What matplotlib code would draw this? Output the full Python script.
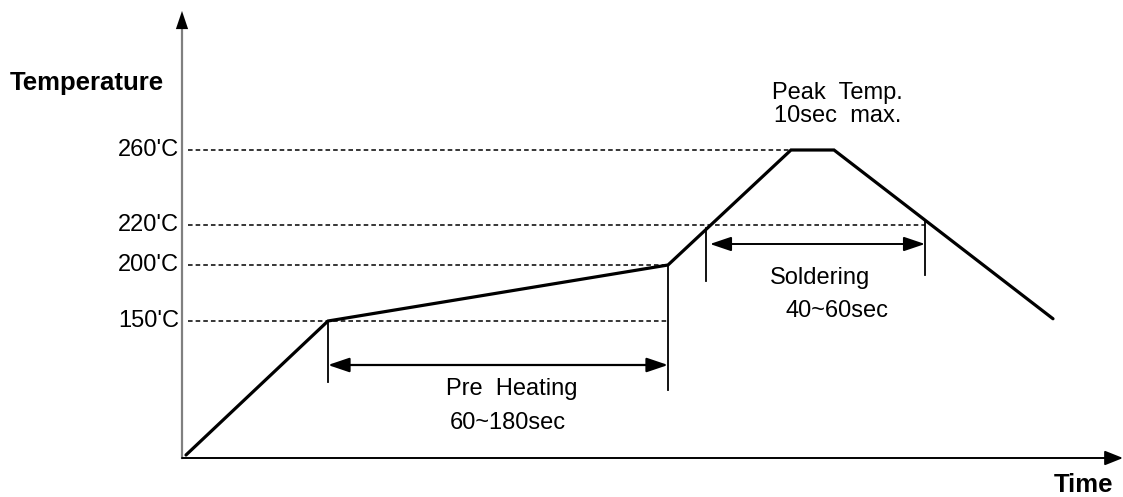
import numpy as np
import matplotlib
matplotlib.use("Agg")
import matplotlib.pyplot as plt

plt.rcParams['font.family'] = ['Liberation Sans', 'DejaVu Sans']

# ---- data (schematic reflow profile) ----
profile_time = [4, 146, 486, 609, 652, 871]          # time (a.u.)
profile_temp = [25, 150, 200, 260, 260, 152]         # temperature 'C
level_temps = [260, 220, 200, 150]
level_labels = ["260'C", "220'C", "200'C", "150'C"]
level_end_time = [609, 743, 486, 486]
preheat_span = [146, 486]
solder_span = [524, 743]

# schematic (non-linear) temperature axis
knot_t = np.array([-100.0, 25.0, 150.0, 200.0, 220.0, 260.0, 500.0])
knot_h = np.array([-130.0, 3.0, 137.0, 193.0, 233.0, 308.0, 758.0])
def fwd(t):
    return np.interp(t, knot_t, knot_h)
def inv(h):
    return np.interp(h, knot_h, knot_t)

W, H = 1123, 497
fig = plt.figure(figsize=(W/100, H/100), dpi=100)
ax = fig.add_axes([0, 0, 1, 1])
ax.set_yscale('function', functions=(fwd, inv))
ax.set_xlim(-182, W - 182)
ax.set_ylim(inv(458 - H), inv(458))
ax.axis('off')

def py(p):
    """pixel row -> temperature on the schematic scale"""
    return inv(458 - p)

ymin = inv(0)
# y axis: gray shaft, black head
ax.plot([0, 0], [ymin, py(28)], color='#808080', lw=1.6)
ax.annotate('', xy=(0, py(11)), xytext=(0, py(40)),
            arrowprops=dict(arrowstyle='-|>,head_length=0.65,head_width=0.22',
                            color='black', lw=0.01,
                            mutation_scale=20, shrinkA=0, shrinkB=0))
# x axis
ax.annotate('', xy=(941, ymin), xytext=(0, ymin),
            arrowprops=dict(arrowstyle='-|>,head_length=0.55,head_width=0.22',
                            color='black', lw=1.4,
                            mutation_scale=20, shrinkA=0, shrinkB=0))

# dashed level lines and labels
for t, lab, xe in zip(level_temps, level_labels, level_end_time):
    ax.plot([6, xe], [t, t], color='black', lw=1.1, ls=(0, (3.0, 2.0)))
    ax.text(-3, t, lab, ha='right', va='center', fontsize=17)

# profile
ax.plot(profile_time, profile_temp, color='black', lw=2.3,
        solid_capstyle='round', solid_joinstyle='miter')

# extension lines
ax.plot([146, 146], [150, py(382)], color='black', lw=1.3)
ax.plot([486, 486], [200, py(390)], color='black', lw=1.3)
ax.plot([524, 524], [py(228), py(281)], color='black', lw=1.3)
ax.plot([743, 743], [py(221), py(275)], color='black', lw=1.3)

# dimension arrows
astyle = '<|-|>,head_length=0.65,head_width=0.22'
y_pre = py(365)
ax.annotate('', xy=(preheat_span[0], y_pre), xytext=(preheat_span[1], y_pre),
            arrowprops=dict(arrowstyle=astyle, color='black', lw=1.6,
                            mutation_scale=20, shrinkA=0, shrinkB=0))
y_sol = py(244)
ax.annotate('', xy=(solder_span[0] + 4, y_sol), xytext=(solder_span[1], y_sol),
            arrowprops=dict(arrowstyle=astyle, color='black', lw=1.4,
                            mutation_scale=20, shrinkA=0, shrinkB=0))

# texts
ax.text(-172, py(83), 'Temperature', ha='left', va='center',
        fontsize=18.5, fontweight='bold')
ax.text(931, py(485), 'Time', ha='right', va='center',
        fontsize=18.5, fontweight='bold')
ax.text(330, py(389), 'Pre  Heating', ha='center', va='center', fontsize=17)
ax.text(326, py(423), '60~180sec', ha='center', va='center', fontsize=17)
ax.text(638, py(278), 'Soldering', ha='center', va='center', fontsize=17)
ax.text(655, py(311), '40~60sec', ha='center', va='center', fontsize=17)
ax.text(655, py(93), 'Peak  Temp.', ha='center', va='center', fontsize=17)
ax.text(656, py(116), '10sec  max.', ha='center', va='center', fontsize=17)

fig.savefig('out.png', dpi=100)
